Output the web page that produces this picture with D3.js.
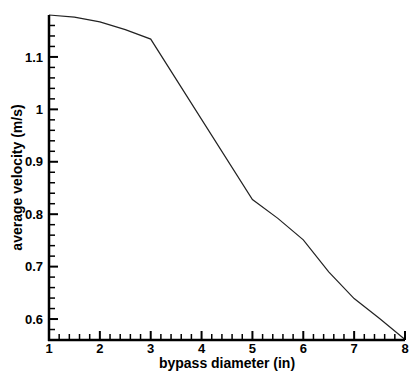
<!DOCTYPE html>
<html>
<head>
<meta charset="utf-8">
<script src="https://cdn.jsdelivr.net/npm/d3@7"></script>
<style>
  body { margin: 0; background: #fff; }
  text { font-family: "Liberation Sans", Arial, sans-serif; font-weight: bold; fill: #000; }
</style>
</head>
<body>
<div id="chart"></div>
<script>
const diameters = [1, 1.5, 2, 2.5, 3, 4, 5, 5.5, 6, 6.5, 7, 7.5, 8];
const velocities = [1.18, 1.176, 1.167, 1.152, 1.134, 0.981, 0.828, 0.792, 0.751, 0.69, 0.639, 0.601, 0.561];
const xTicks = [1, 2, 3, 4, 5, 6, 7, 8];
const yTicks = [0.6, 0.7, 0.8, 0.9, 1, 1.1];
const xMinorTicks = [1.2, 1.4, 1.6, 1.8, 2.2, 2.4, 2.6, 2.8, 3.2, 3.4, 3.6, 3.8, 4.2, 4.4, 4.6, 4.8,
  5.2, 5.4, 5.6, 5.8, 6.2, 6.4, 6.6, 6.8, 7.2, 7.4, 7.6, 7.8];
const yMinorTicks = [0.58, 0.62, 0.64, 0.66, 0.68, 0.72, 0.74, 0.76, 0.78, 0.82, 0.84, 0.86, 0.88,
  0.92, 0.94, 0.96, 0.98, 1.02, 1.04, 1.06, 1.08, 1.12, 1.14, 1.16];

const width = 409, height = 373;
const x = d3.scaleLinear().domain([1, 8]).range([49, 405]);
const y = d3.scaleLinear().domain([0.56, 1.18]).range([340, 15]);

const svg = d3.select("#chart").append("svg")
  .attr("width", width).attr("height", height);

const x0 = x.range()[0], y0 = y.range()[0];

// tick labels
svg.append("g").selectAll("text").data(xTicks).join("text")
  .attr("x", d => x(d)).attr("y", 353)
  .attr("text-anchor", "middle").style("font-size", "13px")
  .text(d => d);

svg.append("g").selectAll("text").data(yTicks).join("text")
  .attr("x", 43).attr("y", d => y(d)).attr("dy", "0.36em")
  .attr("text-anchor", "end").style("font-size", "13px")
  .text(d => d);

// axis titles
svg.append("text")
  .attr("x", (x0 + x.range()[1]) / 2).attr("y", 368)
  .attr("text-anchor", "middle").style("font-size", "14px")
  .text("bypass diameter (in)");

svg.append("text")
  .attr("transform", `translate(22,${(y0 + y.range()[1]) / 2}) rotate(-90)`)
  .attr("text-anchor", "middle").style("font-size", "14px")
  .text("average velocity (m/s)");

// curve
const line = d3.line().x((d, i) => x(diameters[i])).y(d => y(d));
svg.append("path")
  .datum(velocities)
  .attr("d", line)
  .attr("fill", "none")
  .attr("stroke", "#222")
  .attr("stroke-width", 1.2);

// axis lines
svg.append("line")
  .attr("x1", x0 - 1).attr("x2", x.range()[1])
  .attr("y1", y0).attr("y2", y0)
  .attr("stroke", "#000").attr("stroke-width", 2.5);
svg.append("line")
  .attr("x1", x0).attr("x2", x0)
  .attr("y1", y0 + 1).attr("y2", y.range()[1])
  .attr("stroke", "#000").attr("stroke-width", 2.5);

// inward ticks
const ticks = svg.append("g").attr("stroke", "#000");
ticks.selectAll("line.xmin").data(xMinorTicks).join("line").attr("class", "xmin")
  .attr("x1", d => x(d)).attr("x2", d => x(d))
  .attr("y1", y0).attr("y2", y0 - 6).attr("stroke-width", 1.5);
ticks.selectAll("line.xmaj").data(xTicks).join("line").attr("class", "xmaj")
  .attr("x1", d => x(d)).attr("x2", d => x(d))
  .attr("y1", y0).attr("y2", y0 - 9).attr("stroke-width", 2);
ticks.selectAll("line.ymin").data(yMinorTicks).join("line").attr("class", "ymin")
  .attr("y1", d => y(d)).attr("y2", d => y(d))
  .attr("x1", x0).attr("x2", x0 + 6).attr("stroke-width", 1.5);
ticks.selectAll("line.ymaj").data(yTicks).join("line").attr("class", "ymaj")
  .attr("y1", d => y(d)).attr("y2", d => y(d))
  .attr("x1", x0).attr("x2", x0 + 9).attr("stroke-width", 2);
</script>
</body>
</html>
